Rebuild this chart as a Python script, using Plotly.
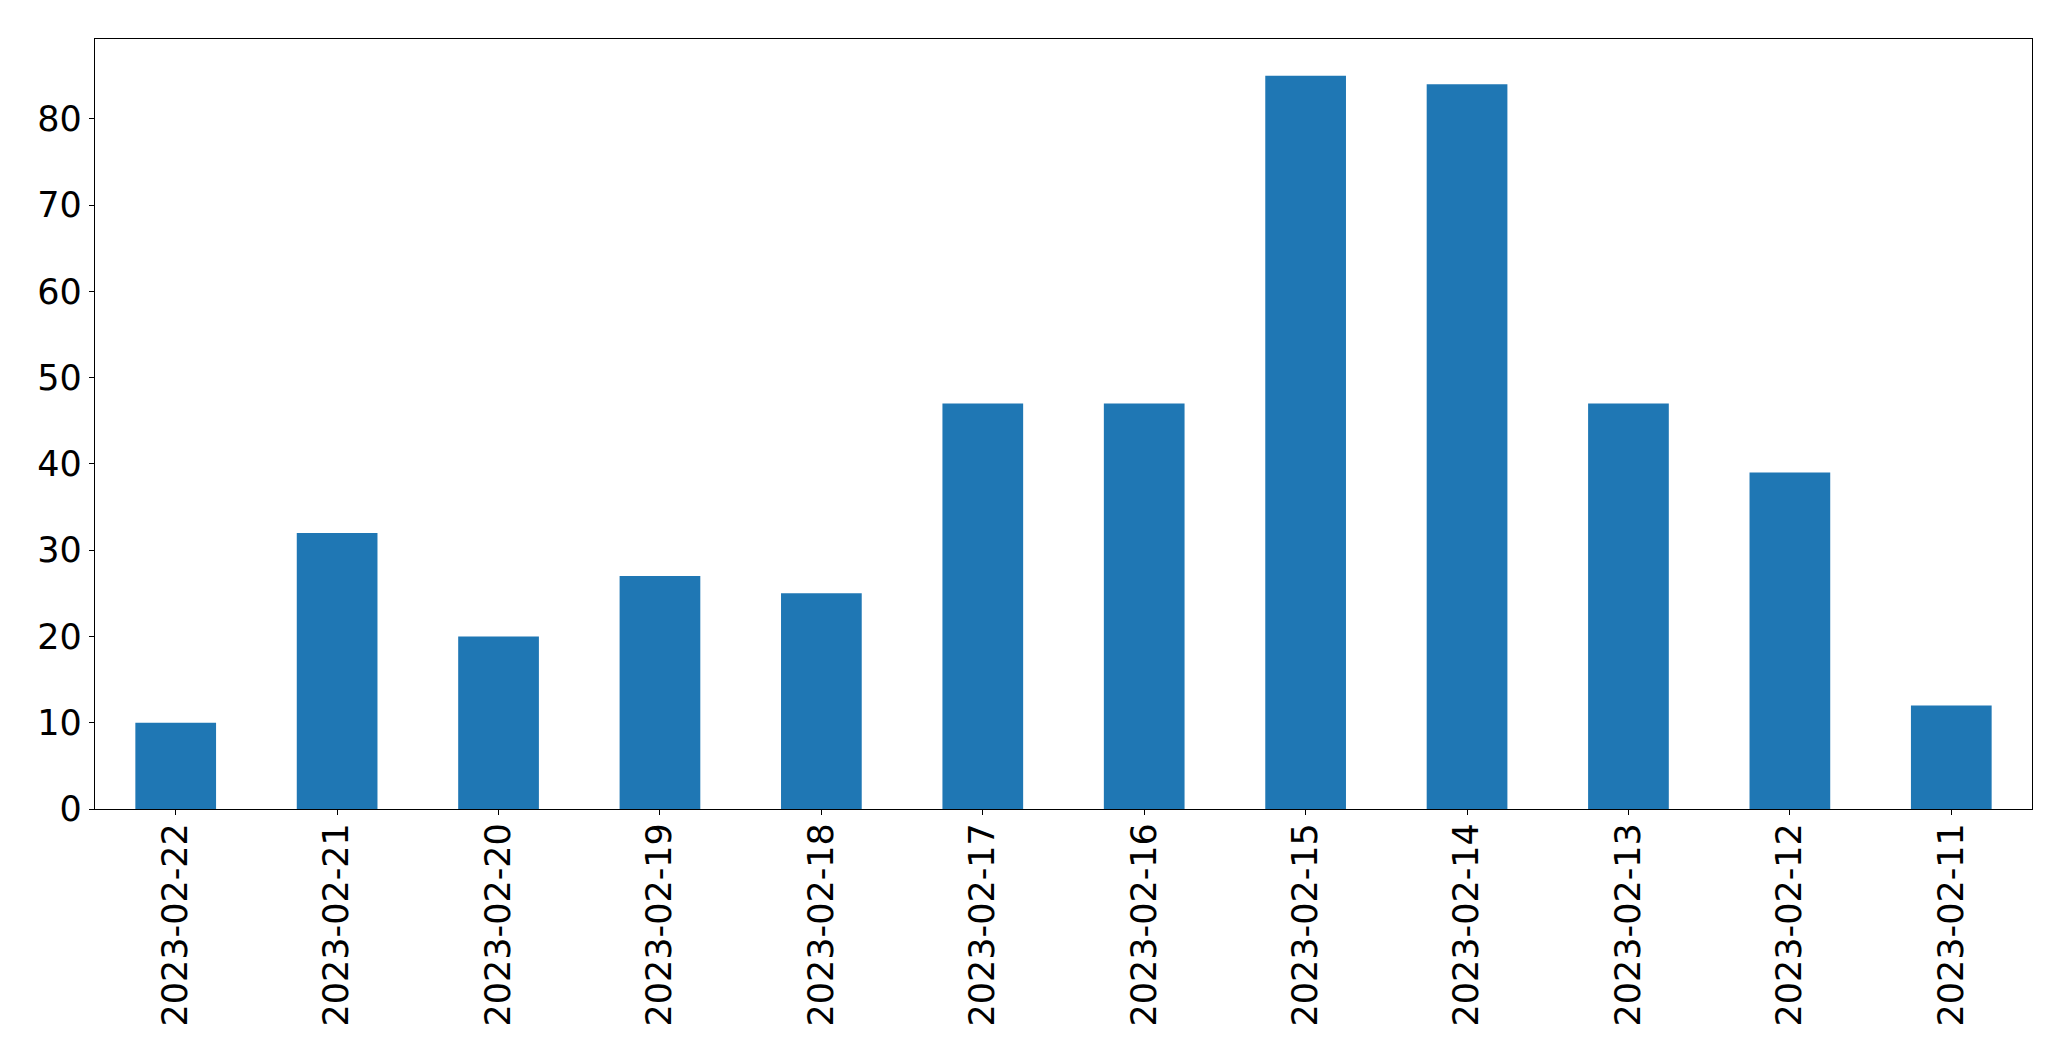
import plotly.graph_objects as go

dates = ["2023-02-22", "2023-02-21", "2023-02-20", "2023-02-19", "2023-02-18", "2023-02-17",
         "2023-02-16", "2023-02-15", "2023-02-14", "2023-02-13", "2023-02-12", "2023-02-11"]
counts = [10, 32, 20, 27, 25, 47, 47, 85, 84, 47, 39, 12]
y_ticks = [0, 10, 20, 30, 40, 50, 60, 70, 80]

fig = go.Figure(go.Bar(x=dates, y=counts, width=0.5, marker=dict(color="#1f77b4", line=dict(width=0))))

font = dict(family="DejaVu Sans", size=35, color="black")
fig.update_layout(
    width=2063, height=1053,
    margin=dict(l=86.5, r=39.3, t=31.3, b=251.7, autoexpand=False),
    plot_bgcolor="white", paper_bgcolor="white",
    showlegend=False,
    font=font,
)
fig.update_xaxes(
    type="category", range=[-0.5, len(dates) - 0.5],
    tickangle=-90, tickfont=font, ticklabelstandoff=-6,
    showline=True, linecolor="black", linewidth=1.3, mirror=True,
    ticks="outside", ticklen=5, tickwidth=1.3, tickcolor="black",
    showgrid=False, zeroline=False,
)
fig.update_yaxes(
    range=[0, 89.25], tickvals=y_ticks, tickfont=font,
    showline=True, linecolor="black", linewidth=1.3, mirror=True,
    ticks="outside", ticklen=5, tickwidth=1.3, tickcolor="black",
    showgrid=False, zeroline=False,
)
fig.write_html("out.html")
